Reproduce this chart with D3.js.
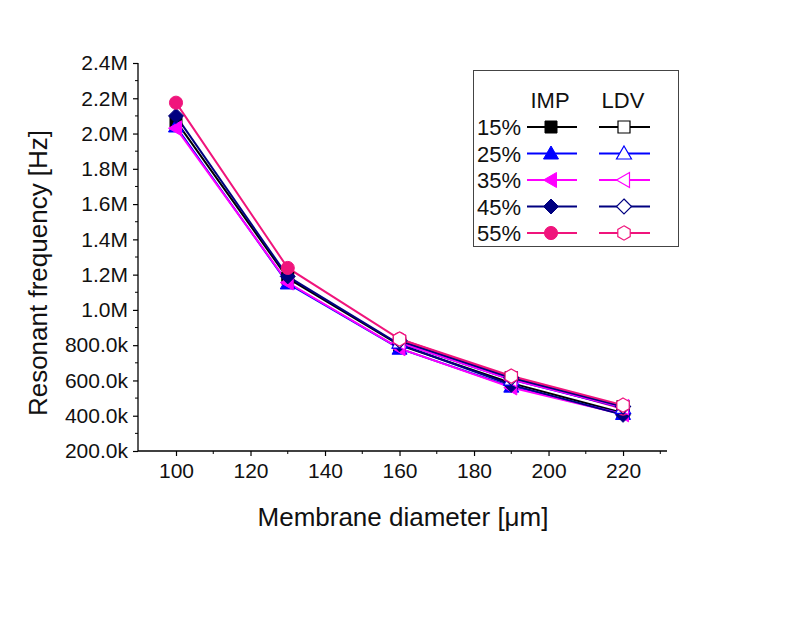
<!DOCTYPE html>
<html><head><meta charset="utf-8">
<script src="https://cdn.jsdelivr.net/npm/d3@7"></script>
<style>body{margin:0;background:#fff;} text{font-family:"Liberation Sans",Arial,sans-serif;}</style>
</head><body>
<svg id="c" width="797" height="623"></svg>
<script>
const diameters = [100, 130, 160, 190, 220];
const ldvDiameters = [160, 190, 220];
const concentrations = ["15%", "25%", "35%", "45%", "55%"];
const imp15 = [2070000, 1180000, 800000, 585000, 415000];
const imp25 = [2040000, 1150000, 780000, 565000, 410000];
const imp35 = [2030000, 1155000, 782000, 560000, 408000];
const imp45 = [2100000, 1190000, 805000, 575000, 405000];
const imp55 = [2175000, 1238000, 835000, 615000, 440000];
const ldv15 = [820000, 615000, 450000];
const ldv25 = [815000, 605000, 445000];
const ldv35 = [815000, 605000, 448000];
const ldv45 = [825000, 615000, 452000];
const ldv55 = [835000, 625000, 460000];
const yTicks = [200000,400000,600000,800000,1000000,1200000,1400000,1600000,1800000,2000000,2200000,2400000];
const xTicks = [100,120,140,160,180,200,220];

const colors = ["#000000", "#0000ff", "#ff00ff", "#000080", "#f0147c"];
const shapes = ["square", "triUp", "triLeft", "diamond", "circle"];
const impData = [imp15, imp25, imp35, imp45, imp55];
const ldvData = [ldv15, ldv25, ldv35, ldv45, ldv55];

const svg = d3.select("#c");
const x = d3.scaleLinear().domain([89.8, 231.8]).range([138, 667]);
const y = d3.scaleLinear().domain([200000, 2400000]).range([451, 63]);

function fmt(v){ return v >= 1000000 ? (v/1000000).toFixed(1)+"M" : (v/1000).toFixed(1)+"k"; }

// axes
const yAxis = d3.axisLeft(y).tickValues(yTicks).tickFormat(fmt).tickSize(5).tickPadding(5);
const gy = svg.append("g").attr("transform","translate(138,0)").call(yAxis);
const yMinor = d3.range(300000, 2400000, 200000);
gy.selectAll(".minor").data(yMinor).enter().append("line").attr("class","minor")
  .attr("x1",0).attr("x2",-3).attr("y1",d=>y(d)).attr("y2",d=>y(d)).attr("stroke","#000");
const xAxis = d3.axisBottom(x).tickValues(xTicks).tickSize(5).tickPadding(7);
const gx = svg.append("g").attr("transform","translate(0,451)").call(xAxis);
const xMinor = [110,130,150,170,190,210,230];
gx.selectAll(".minor").data(xMinor).enter().append("line").attr("class","minor")
  .attr("y1",0).attr("y2",3).attr("x1",d=>x(d)).attr("x2",d=>x(d)).attr("stroke","#000");
[gx, gy].forEach(g=>{
  g.selectAll("path.domain").attr("stroke","#000").attr("stroke-width",1.3);
  g.selectAll(".tick line").attr("stroke","#000").attr("stroke-width",1.2);
  g.selectAll(".tick text").attr("font-size",21).attr("fill","#111").style("font-family","Liberation Sans, Arial, sans-serif");
});
gx.select("path.domain").attr("d","M138,0H667");
gy.select("path.domain").attr("d","M0,451V63");

svg.append("text").attr("x",403).attr("y",526).attr("text-anchor","middle").attr("font-size",26).attr("fill","#111")
  .text("Membrane diameter [μm]");
svg.append("text").attr("transform","translate(47,273) rotate(-90)").attr("text-anchor","middle").attr("font-size",26).attr("fill","#111")
  .text("Resonant frequency [Hz]");

function markerPath(shape){
  const r = 6.5;
  switch(shape){
    case "square": return `M-6,-6H6V6H-6Z`;
    case "triUp": return `M0,-7.5L7.5,5.5L-7.5,5.5Z`;
    case "triLeft": return `M-7.5,0L5.5,-7.5L5.5,7.5Z`;
    case "diamond": return `M0,-7.5L7.5,0L0,7.5L-7.5,0Z`;
    case "circle": return d3.symbol(d3.symbolCircle, 135)();
    case "hex": {
      const pts = d3.range(6).map(k=>{const a=(-90+60*k)*Math.PI/180; return [r*1.1*Math.cos(a), r*1.1*Math.sin(a)];});
      return "M"+pts.map(p=>p.join(",")).join("L")+"Z";
    }
  }
}

const line = d3.line().x(d=>x(d[0])).y(d=>y(d[1]));
const plot = svg.append("g");
impData.forEach((vals,i)=>{
  const pts = diameters.map((d,j)=>[d, vals[j]]);
  plot.append("path").attr("d", line(pts)).attr("fill","none").attr("stroke",colors[i]).attr("stroke-width",2);
});
impData.forEach((vals,i)=>{
  const pts = diameters.map((d,j)=>[d, vals[j]]);
  plot.selectAll(null).data(pts).enter().append("path")
    .attr("transform",d=>`translate(${x(d[0])},${y(d[1])})`)
    .attr("d", markerPath(shapes[i])).attr("fill",colors[i]).attr("stroke",colors[i]).attr("stroke-width",1);
});
const ldvShapes = ["square","triUp","triLeft","diamond","hex"];
ldvData.forEach((vals,i)=>{
  const pts = ldvDiameters.map((d,j)=>[d, vals[j]]);
  plot.append("path").attr("d", line(pts)).attr("fill","none").attr("stroke",colors[i]).attr("stroke-width",2);
});
ldvData.forEach((vals,i)=>{
  const pts = ldvDiameters.map((d,j)=>[d, vals[j]]);
  plot.selectAll(null).data(pts).enter().append("path")
    .attr("transform",d=>`translate(${x(d[0])},${y(d[1])})`)
    .attr("d", markerPath(ldvShapes[i])).attr("fill","#fff").attr("stroke",colors[i]).attr("stroke-width",1.2);
});

// legend
const lg = svg.append("g");
lg.append("rect").attr("x",473.5).attr("y",70.5).attr("width",205).attr("height",176)
  .attr("fill","#fff").attr("stroke","#444").attr("stroke-width",1);
lg.append("text").attr("x",550).attr("y",108).attr("text-anchor","middle").attr("font-size",22).attr("fill","#111").text("IMP");
lg.append("text").attr("x",623).attr("y",108).attr("text-anchor","middle").attr("font-size",22).attr("fill","#111").text("LDV");
concentrations.forEach((c,i)=>{
  const yy = 127 + i*26.5;
  lg.append("text").attr("x",521).attr("y",yy+8).attr("text-anchor","end").attr("font-size",22).attr("fill","#111").text(c);
  lg.append("line").attr("x1",527).attr("x2",577).attr("y1",yy).attr("y2",yy).attr("stroke",colors[i]).attr("stroke-width",2);
  lg.append("path").attr("transform",`translate(551,${yy})`).attr("d",markerPath(shapes[i])).attr("fill",colors[i]).attr("stroke",colors[i]);
  lg.append("line").attr("x1",599).attr("x2",650).attr("y1",yy).attr("y2",yy).attr("stroke",colors[i]).attr("stroke-width",2);
  lg.append("path").attr("transform",`translate(624,${yy})`).attr("d",markerPath(ldvShapes[i])).attr("fill","#fff").attr("stroke",colors[i]).attr("stroke-width",1.2);
});
</script>
</body></html>
